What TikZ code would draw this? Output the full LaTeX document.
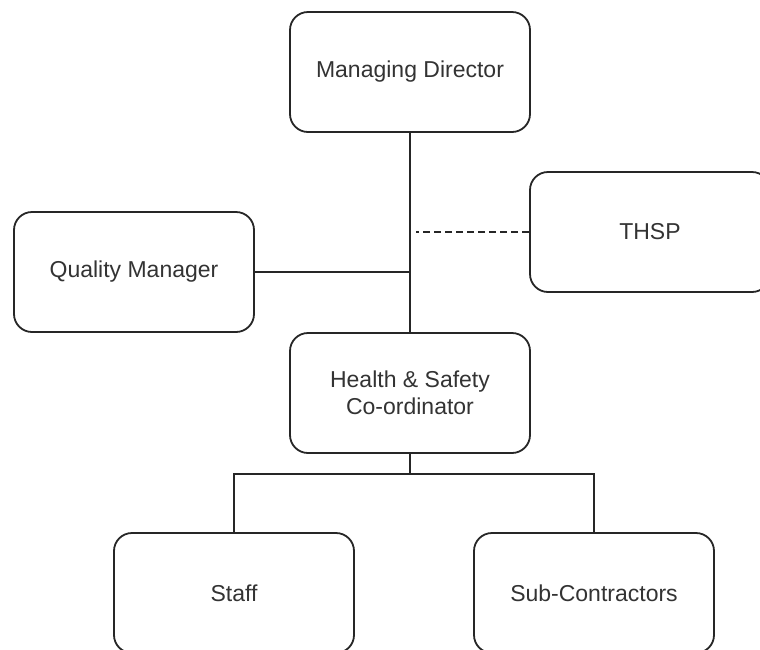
\documentclass[tikz,border=0pt]{standalone}
\usepackage{fontspec}
\setmainfont{Liberation Sans}
\usetikzlibrary{positioning}

\begin{document}
\begin{tikzpicture}[
		x=1pt,y=-1pt,
		role/.style={draw=black!85,line width=1.8pt,rounded corners=18pt,fill=white,minimum width=240pt,minimum height=120pt,align=center,text=black!80,font=\fontsize{23}{27}\selectfont},
		link/.style={draw=black!85,line width=1.8pt},
		advice/.style={link,dash pattern=on 7pt off 4pt}
		]
		
		% --- Canvas
		\useasboundingbox (0,0) rectangle (760,649);
		\clip (0,0) rectangle (760,649);
		
		% --- Boxes
		\node[role] (md) at (410,72) {Managing Director};
		\node[role] (thsp) at (650,232) {THSP};
		\node[role] (qm) at (134,272) {Quality Manager};
		\node[role] (hs) at (410,393) {Health \& Safety\\Co-ordinator};
		\node[role] (staff) at (234,593) {Staff};
		\node[role] (sub) at (594,593) {Sub-Contractors};
		
		% --- Reporting lines
		\draw[link] (md.south) -- (hs.north);
		\draw[link] (qm.east) -- (qm.east -| md.south);
		\draw[advice,shorten >=6pt] (thsp.west) -- (thsp.west -| md.south);
		
		% --- Fork below the co-ordinator
		\draw[link] (hs.south) -- ++(0,20) coordinate (fork);
		\draw[link] (staff.north) |- (fork) -| (sub.north);
		
	\end{tikzpicture}
\end{document}
